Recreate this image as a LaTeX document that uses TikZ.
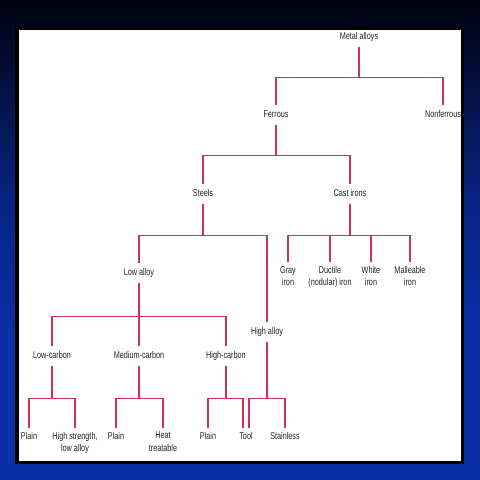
\documentclass[tikz,border=0pt]{standalone}
\usepackage{fontspec}
\setmainfont{Liberation Sans}[FakeStretch=0.74]
\definecolor{bgtop}{RGB}{0,2,16}
\definecolor{bgmid}{RGB}{8,36,130}
\definecolor{bgbot}{RGB}{10,48,168}
\definecolor{linkred}{RGB}{205,50,80}
\definecolor{txt}{RGB}{35,35,35}
\tikzset{
  lbl/.style={font=\fontsize{9.8}{12.5}\selectfont, text=txt, inner xsep=1pt, inner ysep=5.5pt, text height=6pt, text depth=2pt},
  lbltwo/.style={font=\fontsize{9.8}{12.5}\selectfont, text=txt, inner xsep=1pt, inner ysep=4pt, align=center, anchor=north},
  link/.style={draw=linkred, line width=1.1pt}
}
\begin{document}
\begin{tikzpicture}[x=1pt,y=-1pt]
\useasboundingbox (0,0) rectangle (480,480);
% background
\fill[bgbot] (0,0) rectangle (480,480);
\shade[top color=bgtop, bottom color=bgmid] (0,0) rectangle (480,200);
\shade[top color=bgmid, bottom color=bgbot] (0,200) rectangle (480,340);
\fill[black] (15,26) rectangle (464,464);
\fill[white] (19,30) rectangle (461,461);

% nodes
\node[lbl] (ma) at (359,37) {Metal alloys};
\node[lbl] (fe) at (276,115) {Ferrous};
\node[lbl] (nf) at (443,115) {Nonferrous};
\node[lbl] (st) at (203,194) {Steels};
\node[lbl] (ci) at (350,194) {Cast irons};
\node[lbl] (la) at (139,273) {Low alloy};
\node[lbl] (ha) at (267,332) {High alloy};
\node[lbltwo] (gi) at (288,262) {Gray\\iron};
\node[lbltwo] (di) at (330,262) {Ductile\\(nodular) iron};
\node[lbltwo] (wi) at (371,262) {White\\iron};
\node[lbltwo] (mi) at (410,262) {Malleable\\iron};
\node[lbl] (lc) at (52,356) {Low-carbon};
\node[lbl] (mc) at (139,356) {Medium-carbon};
\node[lbl] (hc) at (226,356) {High-carbon};
\node[lbltwo] (p1) at (29,428) {Plain};
\node[lbltwo] (hs) at (75,428) {High strength,\\low alloy};
\node[lbltwo] (p2) at (116,428) {Plain};
\node[lbltwo] (ht) at (163,428) {Heat\\treatable};
\node[lbltwo] (p3) at (208,428) {Plain};
\node[lbltwo] (tl) at (246,428) {Tool};
\node[lbltwo] (ss) at (285,428) {Stainless};

% connectors
\draw[link] (ma.south) -- ++(0,30.5) -| (fe.north);
\draw[link] (ma.south) -- ++(0,30.5) -| (nf.north);
\draw[link] (fe.south) -- ++(0,30.5) -| (st.north);
\draw[link] (fe.south) -- ++(0,30.5) -| (ci.north);
\draw[link] (st.south) -- ++(0,31.5) -| (la.north);
\draw[link] (st.south) -- ++(0,31.5) -| (ha.north);
\draw[link] (ci.south) -- ++(0,31.5) -| (gi.north);
\draw[link] (ci.south) -- ++(0,31.5) -| (di.north);
\draw[link] (ci.south) -- ++(0,31.5) -| (wi.north);
\draw[link] (ci.south) -- ++(0,31.5) -| (mi.north);
\draw[link] (la.south) -- ++(0,33.5) -| (lc.north);
\draw[link] (la.south) -- ++(0,33.5) -| (mc.north);
\draw[link] (la.south) -- ++(0,33.5) -| (hc.north);
\draw[link] (lc.south) -- ++(0,32.5) -| (p1.north);
\draw[link] (lc.south) -- ++(0,32.5) -| (hs.north);
\draw[link] (mc.south) -- ++(0,32.5) -| (p2.north);
\draw[link] (mc.south) -- ++(0,32.5) -| (ht.north);
\draw[link] (hc.south) -- ++(0,32.5) -| (p3.north);
\draw[link] (hc.south) -- ++(0,32.5) -| ([xshift=-3pt]tl.north);
\draw[link] (ha.south) -- ++(0,56.5) -| ([xshift=3pt]tl.north);
\draw[link] (ha.south) -- ++(0,56.5) -| (ss.north);
\end{tikzpicture}
\end{document}
